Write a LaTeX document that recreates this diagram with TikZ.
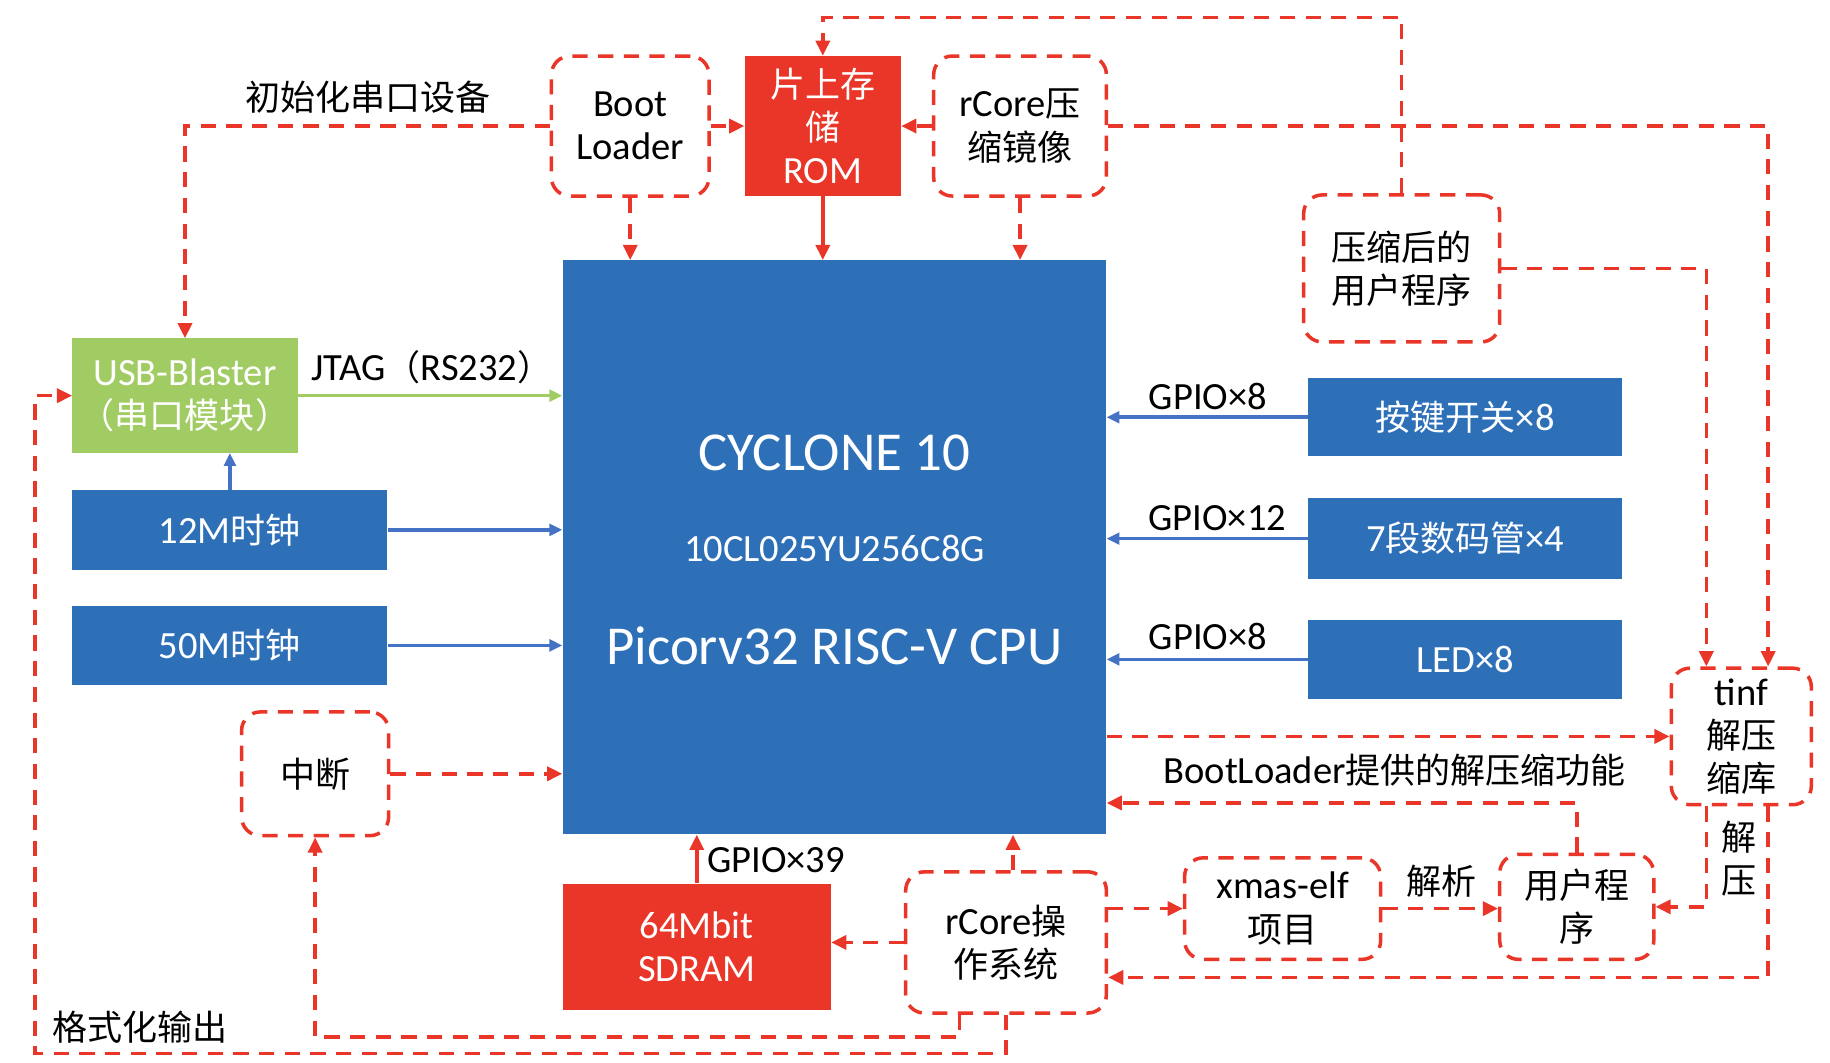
\documentclass[tikz,border=0pt]{standalone}
\usepackage{fontspec}
\setmainfont{Carlito}
\newfontfamily\cjk{Noto Sans CJK SC}
\usetikzlibrary{arrows.meta, calc}

\definecolor{cblue}{RGB}{46,112,184}
\definecolor{carrow}{RGB}{68,114,196}
\definecolor{cred}{RGB}{233,54,40}
\definecolor{cgreen}{RGB}{161,204,99}
\newcommand{\txt}{\fontsize{33}{37}\selectfont}
\newcommand{\bigtxt}{\fontsize{47}{50}\selectfont}
\newcommand{\zh}[1]{{\cjk\fontsize{30}{37}\selectfont #1}}

\tikzset{
	blk/.style={rectangle, inner sep=0pt, text=white, align=center, font=\txt},
	bluebox/.style={blk, fill=cblue},
	redbox/.style={blk, fill=cred},
	greenbox/.style={blk, fill=cgreen},
	dbox/.style={rectangle, inner sep=0pt, rounded corners=16pt, draw=cred, line width=3pt, dash pattern=on 13pt off 9pt, align=center, font=\txt},
	lbl/.style={inner sep=0pt, align=center, font=\txt},
	redarrow/.style={draw=cred, line width=3pt, dash pattern=on 13pt off 9pt, -{Triangle[length=13pt,width=12pt]}},
	redline/.style={draw=cred, line width=3pt, -{Triangle[length=13pt,width=12pt]}},
	bluearrow/.style={draw=carrow, line width=3pt, -{Triangle[length=11pt,width=10pt]}},
	greenarrow/.style={draw=cgreen, line width=3pt, -{Triangle[length=11pt,width=10pt]}},
}

\begin{document}
\begin{tikzpicture}[x=1pt, y=-1pt]
	\useasboundingbox (0,0) rectangle (1568,910);
	\node (cpu) at (715,469)[bluebox, minimum width=466, minimum height=492]{};
	\node (cpu1) at (715,388)[lbl, text=white, font=\bigtxt]{CYCLONE 10};
	\node (cpu2) at (715,470)[lbl, text=white]{10CL025YU256C8G};
	\node (cpu3) at (715,553)[lbl, text=white, font=\bigtxt]{Picorv32 RISC-V CPU};
	\node (boot) at (540,108)[dbox, minimum width=135, minimum height=120]{Boot\\Loader};
	\node (rom) at (705,108)[redbox, minimum width=134, minimum height=120]{\zh{片上存}\\\zh{储}\\ROM};
	\node (rcz) at (874,108)[dbox, minimum width=148, minimum height=120]{rCore\zh{压}\\\zh{缩镜像}};
	\node (usrz) at (1201,230)[dbox, minimum width=168, minimum height=126]{\zh{压缩后的}\\\zh{用户程序}};
	\node (usb) at (158.5,339)[greenbox, minimum width=193, minimum height=98]{USB-Blaster\\\zh{（串口模块）}};
	\node (c12) at (197,454)[bluebox, minimum width=270, minimum height=68]{12M\zh{时钟}};
	\node (c50) at (197,553)[bluebox, minimum width=270, minimum height=68]{50M\zh{时钟}};
	\node (int) at (270,663)[dbox, minimum width=126, minimum height=106]{\zh{中断}};
	\node (sd) at (597,811)[redbox, minimum width=230, minimum height=108]{64Mbit\\SDRAM};
	\node (ros) at (862,807.5)[dbox, minimum width=172, minimum height=121]{rCore\zh{操}\\\zh{作系统}};
	\node (xm) at (1099,778.5)[dbox, minimum width=168, minimum height=87]{xmas-elf\\\zh{项目}};
	\node (usr) at (1351,777)[dbox, minimum width=132, minimum height=90]{\zh{用户程}\\\zh{序}};
	\node (tinf) at (1492,631)[dbox, minimum width=120, minimum height=117]{tinf\\\zh{解压}\\\zh{缩库}};
	\node (k1) at (1255.5,357.5)[bluebox, minimum width=269, minimum height=67]{\zh{按键开关}×8};
	\node (k2) at (1255.5,461.5)[bluebox, minimum width=269, minimum height=69]{7\zh{段数码管}×4};
	\node (k3) at (1255.5,565)[bluebox, minimum width=269, minimum height=68]{LED×8};
	\coordinate (rosn) at ($(ros.north)+(6,0)$);

	\node (l1) at (315,83)[lbl]{\zh{初始化串口设备}};
	\node (l2) at (370,315)[lbl]{JTAG\zh{（}RS232\zh{）}};
	\node (l3) at (1035,340)[lbl]{GPIO×8};
	\node (l4) at (1043,444)[lbl]{GPIO×12};
	\node (l5) at (1035,545)[lbl]{GPIO×8};
	\node (l6) at (1195,660)[lbl]{BootLoader\zh{提供的解压缩功能}};
	\node (l7) at (665,737)[lbl]{GPIO×39};
	\node (l8) at (1235,755)[lbl]{\zh{解析}};
	\node (l9) at (1490,736)[lbl]{\zh{解}\\\zh{压}};
	\node (l10) at (120,880)[lbl]{\zh{格式化输出}};

	\draw[redarrow] (boot.east) -- (rom.west);
	\draw[redarrow] (rcz.west) -- (rom.east);
	\draw[redarrow] (boot.south) -- (boot.south |- cpu.north);
	\draw[redline] (rom.south) -- (rom.south |- cpu.north);
	\draw[redarrow] (rcz.south) -- (rcz.south |- cpu.north);
	\draw[redarrow] (boot.west) -| (usb.north);
	\draw[redarrow] (usrz.north) |- ($(rom.north)+(0,-33)$) -- (rom.north);
	\draw[redarrow] (rcz.east) -| ($(tinf.north)+(23,0)$);
	\draw[redarrow] (usrz.east) -| ($(tinf.north)+(-30,0)$);
	\draw[greenarrow] (usb.east) -- (usb.east -| cpu.west);
	\draw[bluearrow] (c12.north) -- (c12.north |- usb.south);
	\draw[bluearrow] (c12.east) -- (c12.east -| cpu.west);
	\draw[bluearrow] (c50.east) -- (c50.east -| cpu.west);
	\draw[redarrow] (int.east) -- (int.east -| cpu.west);
	\draw[bluearrow] (k1.west) -- (k1.west -| cpu.east);
	\draw[bluearrow] (k2.west) -- (k2.west -| cpu.east);
	\draw[bluearrow] (k3.west) -- (k3.west -| cpu.east);
	\draw[redarrow] (cpu.east |- tinf.west) -- (tinf.west);
	\draw[redarrow] (usr.north) |- (cpu.east |- 0,688);
	\draw[redline] (sd.north) -- (sd.north |- cpu.south);
	\draw[redarrow] (ros.west) -- (ros.west -| sd.east);
	\draw[redarrow] (rosn) -- (rosn |- cpu.south);
	\draw[redarrow] (ros.east |- xm.west) -- (xm.west);
	\draw[redarrow] (xm.east) -- (usr.west |- xm.east);
	\draw[redarrow] ($(tinf.south)+(-30,0)$) |- (usr.east);
	\draw[redarrow] ($(tinf.south)+(23,0)$) |- ($(ros.east)+(0,30)$);
	\draw[redarrow] ($(ros.south)+(-40,0)$) -- ++(0,19) -| (int.south);
	\draw[redarrow] (ros.south) -- ++(0,33) -| (30,620) |- (usb.west);
\end{tikzpicture}
\end{document}
